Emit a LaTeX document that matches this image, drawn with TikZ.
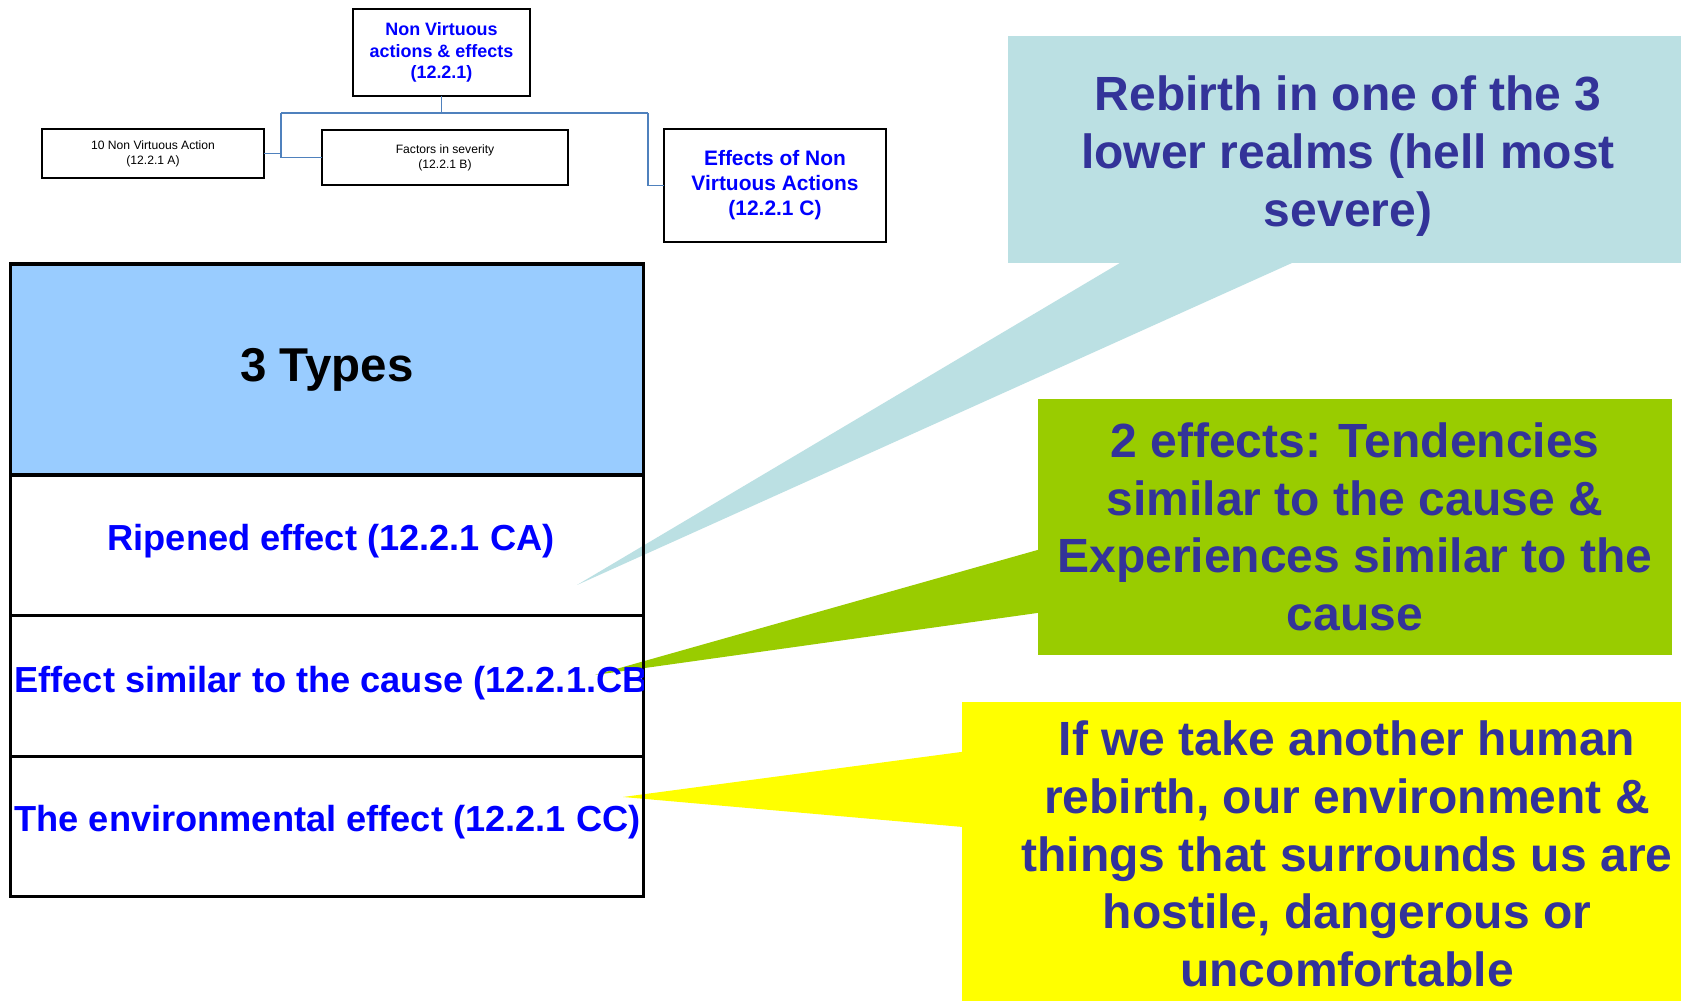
\documentclass[tikz,border=0pt]{standalone}
\usepackage{fontspec}
\setmainfont{Liberation Sans}
\usepackage{tikz}
\usetikzlibrary{positioning}
\usetikzlibrary{calc}
\definecolor{linkblue}{HTML}{4F81BD}
\definecolor{bubbletext}{HTML}{333399}
\definecolor{bubbleblue}{HTML}{BBE0E3}
\definecolor{bubblegreen}{HTML}{99CC00}
\definecolor{bubbleyellow}{HTML}{FFFF00}
\definecolor{headblue}{HTML}{99CCFF}
\tikzset{box/.style = {draw, line width=0.4pt, inner sep=0, outer sep=0, align=center}}
\tikzset{link/.style = {linkblue, line width=0.5pt}}
\tikzset{cell/.style = {draw, line width=0.9pt, minimum width=6.32cm, inner sep=0, outer sep=0}}
\tikzset{celltext/.style = {text=blue, font=\fontsize{10.3}{12}\selectfont\bfseries, inner sep=0, anchor=west}}
\tikzset{bubble/.style = {inner sep=0, outer sep=0, align=center, text=bubbletext, font=\fontsize{13.65}{16.4}\selectfont\bfseries}}

\begin{document}
\begin{tikzpicture}[x=0.01cm, y=-0.01cm]
        \fill[white] (0,0) rectangle (1681,1001);
        \useasboundingbox (0,0) rectangle (1681,1001);
        \clip (0,0) rectangle (1681,1001);
        % tree on top
        \node[box, minimum width=1.77cm, minimum height=0.87cm, text=blue, font=\fontsize{5.1}{6.1}\selectfont\bfseries] (NonVirtuous) at (441.5,52.5) {Non Virtuous\\actions \& effects\\(12.2.1)};
        \node[box, minimum width=2.22cm, minimum height=0.49cm, font=\fontsize{3.45}{4.2}\selectfont] (TenActions) at (153,153.5) {10 Non Virtuous Action\\(12.2.1 A)};
        \node[box, minimum width=2.46cm, minimum height=0.55cm, font=\fontsize{3.45}{4.2}\selectfont] (Factors) at (445,157.5) {Factors in severity\\(12.2.1 B)};
        \node[box, minimum width=2.22cm, minimum height=1.13cm, text=blue, font=\fontsize{5.95}{7.1}\selectfont\bfseries] (EffectsNV) at (775,185.5) {Effects of Non\\Virtuous Actions\\(12.2.1 C)};
        \coordinate (busL) at (281,113);
        \coordinate (busR) at (648,113);
        \draw[link] (NonVirtuous.south) -- (NonVirtuous.south |- busL);
        \draw[link] (busL) -- (busR);
        \draw[link] (busL) |- (TenActions.east);
        \draw[link] (busL) |- (Factors.west);
        \draw[link] (busR) |- (EffectsNV.west);
        % callouts
        \node[bubble, fill=bubbleblue, minimum width=6.8cm, minimum height=2.27cm] (Rebirth) at (1348,149.5) {\rule{0pt}{13.6pt}Rebirth in one of the 3\\lower realms (hell most\\severe)};
        \node[bubble, fill=bubblegreen, minimum width=6.34cm, minimum height=2.56cm] (Tendencies) at (1355,527) {2 effects: Tendencies\\similar to the cause \&\\Experiences similar to the\\cause};
        \node[bubble, fill=bubbleyellow, minimum width=7.7cm, minimum height=3.04cm] (Hostile) at (1347,854) {If we take another human\\rebirth, our environment \&\\things that surrounds us are\\hostile, dangerous or\\uncomfortable};
        \coordinate (tipA) at (577,585);
        \coordinate (tipB) at (595,675);
        \coordinate (tipC) at (623,797);
        \fill[bubbleblue] (tipA) -- ($(Rebirth.south west)+(112,0)$) -- ($(Rebirth.south west)+(284,0)$) -- cycle;
        \fill[bubblegreen] (tipB) -- ($(Tendencies.north west)+(0,151)$) -- ($(Tendencies.north west)+(0,214)$) -- cycle;
        \fill[bubbleyellow] (tipC) -- ($(Hostile.north west)+(0,50)$) -- ($(Hostile.north west)+(0,125)$) -- cycle;
        % table
        \node[cell, fill=headblue, minimum height=2.11cm, font=\fontsize{13.5}{15}\selectfont\bfseries] (ThreeTypes) at (327,369.5) {3 Types};
        \node[cell, minimum height=1.40cm, below=0pt of ThreeTypes] (Ripened) {};
        \node[cell, minimum height=1.41cm, below=0pt of Ripened] (Similar) {};
        \node[cell, minimum height=1.40cm, below=0pt of Similar] (Environ) {};
        \node[celltext, anchor=center] (RipenedText) at ($(Ripened.center)+(4,-4)$) {Ripened effect (12.2.1 CA)};
        \begin{scope}
        \clip (Similar.north west) rectangle (Similar.south east);
        \node[celltext] (SimilarText) at ($(Similar.west)+(3,-3)$) {Effect similar to the cause (12.2.1.CB)};
        \end{scope}
        \begin{scope}
        \clip (Environ.north west) rectangle (Environ.south east);
        \node[celltext] (EnvironText) at ($(Environ.west)+(3,-4)$) {The environmental effect (12.2.1 CC)};
        \end{scope}
    \end{tikzpicture}
\end{document}
